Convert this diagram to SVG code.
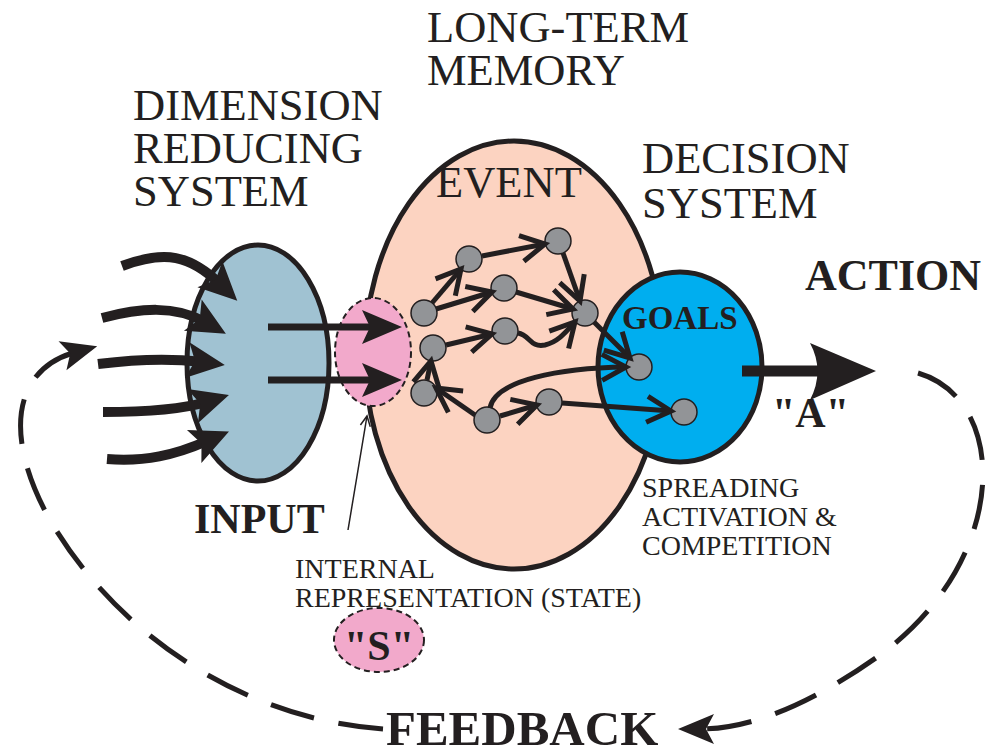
<svg xmlns="http://www.w3.org/2000/svg" width="987" height="753" viewBox="0 0 987 753">
<style>
  .t { font-family: "Liberation Serif", "Times New Roman", serif; fill: #231f20; }
  .b { font-weight: bold; }
  .big { font-size: 44.5px; }
  .small { font-size: 28px; }
  .outline { stroke: #231f20; stroke-width: 5; }
  .node { fill: #929497; stroke: #231f20; stroke-width: 1.5; }
  .edge { fill: none; stroke: #231f20; stroke-width: 5; }
  .thick { fill: none; stroke: #231f20; stroke-width: 10; }
  .mid { fill: none; stroke: #231f20; stroke-width: 7; }
  .dash { fill: none; stroke: #231f20; stroke-width: 5; stroke-dasharray: 45 25; }
</style>
<defs>
  <marker id="vhead" markerUnits="userSpaceOnUse" orient="auto" overflow="visible" markerWidth="1" markerHeight="1" refX="0" refY="0">
    <path d="M -24 -13 L 0 0 L -24 13" fill="none" stroke="#231f20" stroke-width="5"/>
  </marker>
  <marker id="inhead" markerUnits="userSpaceOnUse" orient="auto" overflow="visible" markerWidth="1" markerHeight="1" refX="0" refY="0">
    <path d="M 24 0 L -14 -18 L -6 0 L -14 18 Z" fill="#231f20"/>
  </marker>
  <marker id="midhead" markerUnits="userSpaceOnUse" orient="auto" overflow="visible" markerWidth="1" markerHeight="1" refX="0" refY="0">
    <path d="M 22 0 L -18 -17 L -10 0 L -18 17 Z" fill="#231f20"/>
  </marker>
  <marker id="acthead" markerUnits="userSpaceOnUse" orient="auto" overflow="visible" markerWidth="1" markerHeight="1" refX="0" refY="0">
    <path d="M 51 0 L -15 -28 Q 0 0 -15 29 Z" fill="#231f20"/>
  </marker>
  <marker id="fbhead" markerUnits="userSpaceOnUse" orient="auto" overflow="visible" markerWidth="1" markerHeight="1" refX="0" refY="0">
    <path d="M 22 0 L -14 -15 L -6 0 L -14 15 Z" fill="#231f20"/>
  </marker>
  <marker id="thinhead" markerUnits="userSpaceOnUse" orient="auto" overflow="visible" markerWidth="1" markerHeight="1" refX="0" refY="0">
    <path d="M -10 -5 L 0 0 L -10 5" fill="none" stroke="#231f20" stroke-width="1.5"/>
  </marker>
</defs>

<!-- Titles -->
<g id="labels">
  <text class="t big" x="427" y="42">LONG-TERM</text>
  <text class="t big" x="427" y="85">MEMORY</text>
  <text class="t big" x="133" y="120">DIMENSION</text>
  <text class="t big" x="133" y="163">REDUCING</text>
  <text class="t big" x="133" y="206">SYSTEM</text>
  <text class="t big" x="642" y="173">DECISION</text>
  <text class="t big" x="642" y="218">SYSTEM</text>
  <text class="t b" x="805" y="290" font-size="44">ACTION</text>
  <text class="t b" x="772" y="427" font-size="42">"A"</text>
  <text class="t small" x="642" y="497">SPREADING</text>
  <text class="t small" x="642" y="526">ACTIVATION &amp;</text>
  <text class="t small" x="642" y="555">COMPETITION</text>
  <text class="t b" x="194" y="533" font-size="42">INPUT</text>
  <text class="t small" x="295" y="578">INTERNAL</text>
  <text class="t small" x="295" y="607">REPRESENTATION (STATE)</text>
  <text class="t b" x="386" y="745" font-size="49">FEEDBACK</text>
</g>

<!-- Dimension reducing system -->
<g id="dim-reducing">
  <ellipse cx="258" cy="363" rx="71" ry="118" fill="#a0c2d2" class="outline"/>
</g>

<!-- Long-term memory -->
<g id="ltm">
  <ellipse cx="514" cy="355" rx="149" ry="214" fill="#fcd3c1" class="outline"/>
  <text class="t big" x="436" y="197">EVENT</text>
</g>

<!-- Internal representation -->
<g id="state">
  <ellipse cx="373" cy="352" rx="38" ry="54" fill="#f2a9cb" stroke="#231f20" stroke-width="2" stroke-dasharray="6 4"/>
</g>

<!-- Goals -->
<g id="goals">
  <ellipse cx="680" cy="367" rx="82" ry="95" fill="#00aeef" class="outline"/>
  <text class="t b" x="622" y="329" font-size="33">GOALS</text>
</g>

<!-- S -->
<g id="s-state">
  <ellipse cx="379" cy="640" rx="45" ry="32" fill="#f2a9cb" stroke="#231f20" stroke-width="2" stroke-dasharray="6 4"/>
  <text class="t b" x="379" y="660" font-size="42" text-anchor="middle">"S"</text>
</g>

<!-- Nodes -->
<g id="n1"><circle class="node" cx="469" cy="259" r="13"/></g>
<g id="n2"><circle class="node" cx="558" cy="241" r="13"/></g>
<g id="n3"><circle class="node" cx="424" cy="313" r="13"/></g>
<g id="n4"><circle class="node" cx="504" cy="288" r="13"/></g>
<g id="n5"><circle class="node" cx="585" cy="313" r="13"/></g>
<g id="n6"><circle class="node" cx="505" cy="331" r="13"/></g>
<g id="n7"><circle class="node" cx="433" cy="348" r="13"/></g>
<g id="n8"><circle class="node" cx="424" cy="393" r="13"/></g>
<g id="n9"><circle class="node" cx="487" cy="420" r="13"/></g>
<g id="n10"><circle class="node" cx="549" cy="402" r="13"/></g>
<g id="g1"><circle class="node" cx="639" cy="367" r="13"/></g>
<g id="g2"><circle class="node" cx="684" cy="412" r="13"/></g>

<!-- Connectors -->
<g id="connectors">
  <!-- input arrows -->
  <path class="thick" marker-end="url(#inhead)" d="M 122 266 C 165 250 190 255 220 284"/>
  <path class="thick" marker-end="url(#inhead)" d="M 102 318 C 140 308 175 305 205 322"/>
  <path class="thick" marker-end="url(#inhead)" d="M 98 364 C 130 360 170 358 201 362"/>
  <path class="thick" marker-end="url(#inhead)" d="M 103 412 C 140 412 180 410 206 402"/>
  <path class="thick" marker-end="url(#inhead)" d="M 107 459 C 145 462 175 455 207 441"/>
  <!-- dimension reducer to state -->
  <path class="mid" marker-end="url(#midhead)" d="M 268 327 L 380 327"/>
  <path class="mid" marker-end="url(#midhead)" d="M 268 380 L 380 380"/>
  <!-- pointer -->
  <path fill="none" stroke="#231f20" stroke-width="1.5" marker-end="url(#thinhead)" d="M 348 530 L 367 416"/>
  <!-- memory graph -->
  <path class="edge" marker-end="url(#vhead)" d="M 432 303 L 461 269"/>
  <path class="edge" marker-end="url(#vhead)" d="M 436 309 L 492 292"/>
  <path class="edge" marker-end="url(#vhead)" d="M 482 256 L 545 244"/>
  <path class="edge" marker-end="url(#vhead)" d="M 563 253 L 580 301"/>
  <path class="edge" marker-end="url(#vhead)" d="M 516 292 L 573 309"/>
  <path class="edge" marker-end="url(#vhead)" d="M 518 333 C 530 335 530 348 545 345 C 558 342 566 332 575 322"/>
  <path class="edge" marker-end="url(#vhead)" d="M 446 345 L 492 334"/>
  <path class="edge" marker-end="url(#vhead)" d="M 427 380 L 431 361"/>
  <path class="edge" marker-end="url(#vhead)" d="M 475 415 L 436 388"/>
  <path class="edge" marker-end="url(#vhead)" d="M 500 416 L 537 405"/>
  <path class="edge" marker-end="url(#vhead)" d="M 490 408 C 495 380 560 368 626 367"/>
  <path class="edge" marker-end="url(#vhead)" d="M 594 322 L 630 358"/>
  <path class="edge" marker-end="url(#vhead)" d="M 562 403 L 671 411"/>
  <!-- action -->
  <path fill="none" stroke="#231f20" stroke-width="11" marker-end="url(#acthead)" d="M 742 371 L 825 371"/>
  <!-- feedback loop -->
  <path class="dash" marker-end="url(#fbhead)" d="M 918 373 C 1010 400 1010 560 880 655 C 810 705 750 729 700 729"/>
  <path class="dash" marker-end="url(#fbhead)" d="M 383 729 C 250 720 120 640 50 520 C 5 440 10 370 76 352"/>
</g>
</svg>
